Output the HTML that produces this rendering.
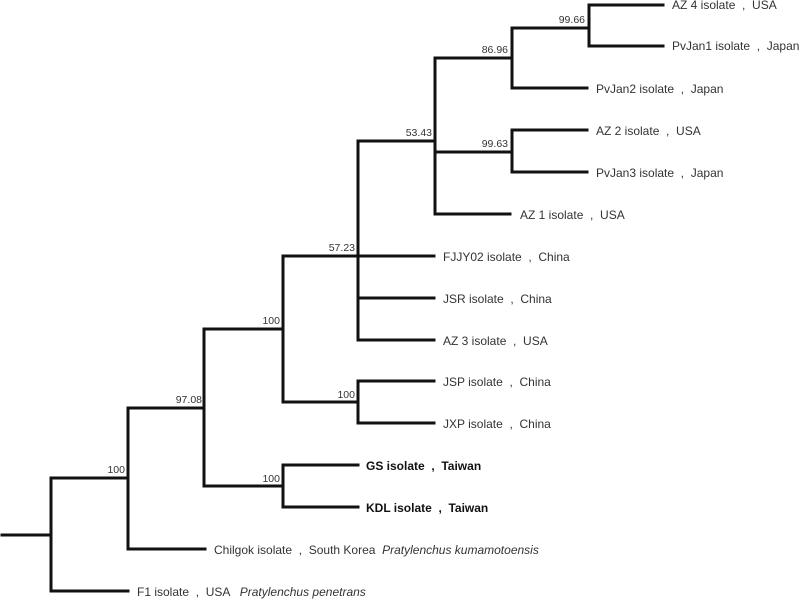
<!DOCTYPE html>
<html><head><style>
body{margin:0;background:#fff;width:800px;height:600px;overflow:hidden}
text{font-family:"Liberation Sans",sans-serif;font-size:12px;fill:#333;white-space:pre}
.n{font-size:10.5px;text-anchor:end}
.b{font-weight:bold;fill:#111}
</style></head><body>
<svg width="800" height="600" xmlns="http://www.w3.org/2000/svg" xml:space="preserve">
<g stroke="#111" stroke-width="3" fill="none" stroke-linecap="square">
<path d="M2 535H51M51 478V591M51 478H128M51 591H128"/>
<path d="M128 408V549M128 549H205M128 408H204"/>
<path d="M204 329V486M204 329H283M204 486H283"/>
<path d="M283 465V507M283 465H358M283 507H358"/>
<path d="M283 256V402M283 256H358M283 402H358"/>
<path d="M358 381V423M358 381H434M358 423H434"/>
<path d="M358 141V340M358 141H435M358 256H434M358 298H434M358 340H434"/>
<path d="M435 58V214M435 58H512M435 152H512M435 214H510"/>
<path d="M512 28V88M512 28H589M512 88H587"/>
<path d="M589 5V46M589 5H663M589 46H663"/>
<path d="M512 130V172M512 130H587M512 172H587"/>
</g>
<text class="n" x="585" y="23">99.66</text>
<text class="n" x="508" y="53">86.96</text>
<text class="n" x="432" y="136">53.43</text>
<text class="n" x="508" y="147">99.63</text>
<text class="n" x="355" y="251">57.23</text>
<text class="n" x="280" y="324">100</text>
<text class="n" x="355" y="398">100</text>
<text class="n" x="202" y="403">97.08</text>
<text class="n" x="125" y="473">100</text>
<text class="n" x="280" y="482">100</text>
<text x="672" y="9">AZ 4 isolate  ,  USA</text>
<text x="672" y="50">PvJan1 isolate  ,  Japan</text>
<text x="596" y="93">PvJan2 isolate  ,  Japan</text>
<text x="596" y="135">AZ 2 isolate  ,  USA</text>
<text x="596" y="177">PvJan3 isolate  ,  Japan</text>
<text x="520" y="219">AZ 1 isolate  ,  USA</text>
<text x="443" y="261">FJJY02 isolate  ,  China</text>
<text x="443" y="303">JSR isolate  ,  China</text>
<text x="443" y="345">AZ 3 isolate  ,  USA</text>
<text x="443" y="386">JSP isolate  ,  China</text>
<text x="443" y="428">JXP isolate  ,  China</text>
<text x="366" y="470" class="b">GS isolate  ,  Taiwan</text>
<text x="366" y="512" class="b">KDL isolate  ,  Taiwan</text>
<text x="214" y="554">Chilgok isolate  ,  South Korea  <tspan font-style="italic">Pratylenchus kumamotoensis</tspan></text>
<text x="137" y="596">F1 isolate  ,  USA   <tspan font-style="italic">Pratylenchus penetrans</tspan></text>
</svg>
</body></html>
